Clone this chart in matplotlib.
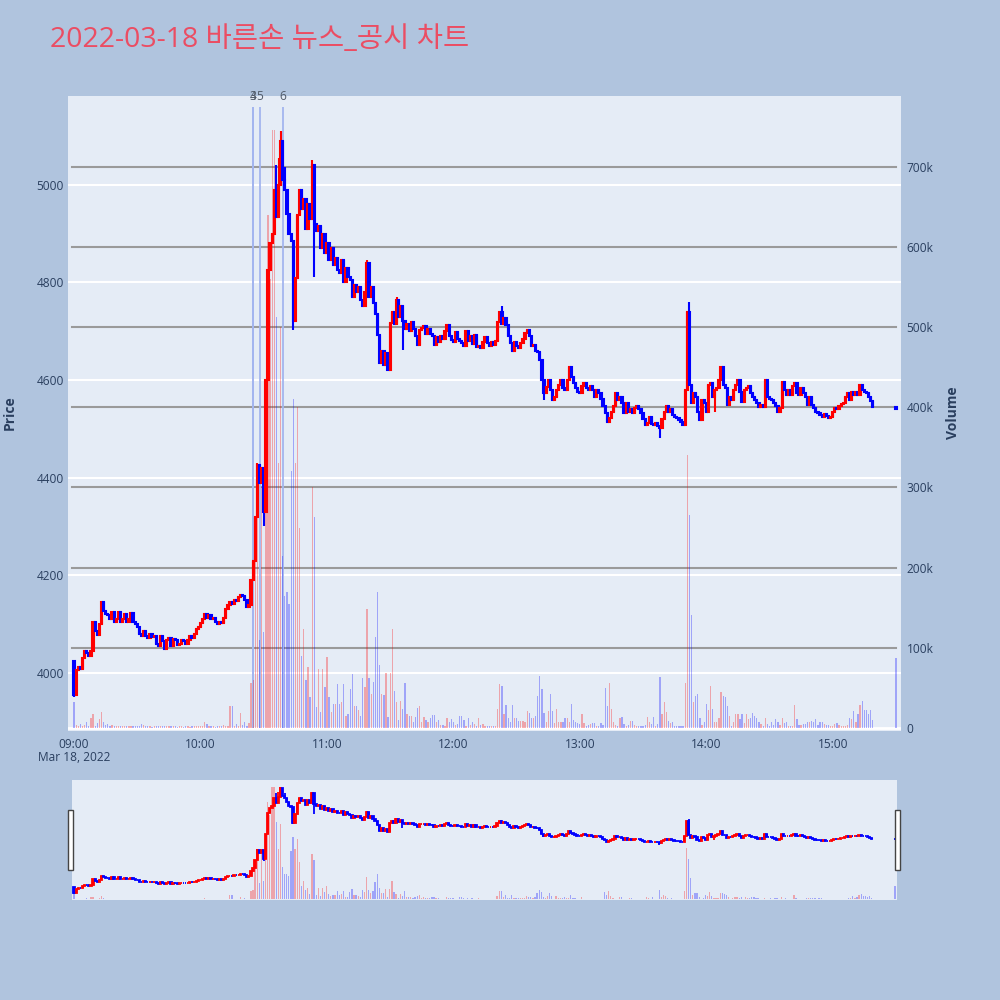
import matplotlib
matplotlib.use("Agg")
import matplotlib.pyplot as plt
from matplotlib.patches import Rectangle

plt.rcParams['font.family'] = ['Open Sans', 'Noto Sans CJK KR', 'DejaVu Sans']

TITLE = "2022-03-18 바른손 뉴스_공시 차트"

# closing price of each one-minute candle, 09:00 .. 15:19
closes = [
    3955, 4005, 4012, 4008, 4030, 4045, 4040, 4035, 4045, 4105,
    4085, 4078, 4100, 4145, 4126, 4120, 4118, 4110, 4125, 4105,
    4110, 4125, 4105, 4110, 4120, 4105, 4110, 4122, 4105, 4100,
    4095, 4080, 4075, 4085, 4075, 4072, 4080, 4073, 4075, 4060,
    4055, 4075, 4065, 4050, 4068, 4072, 4055, 4070, 4068, 4058,
    4060, 4068, 4066, 4060, 4068, 4075, 4072, 4080, 4090, 4095,
    4102, 4110, 4120, 4112, 4118, 4110, 4112, 4105, 4100, 4105,
    4102, 4112, 4130, 4140, 4145, 4142, 4150, 4148, 4155, 4160,
    4158, 4150, 4135, 4140, 4190, 4230, 4320, 4425, 4390, 4420,
    4330, 4600, 4826, 4880, 4900, 4990, 4935, 5000, 5090, 5010,
    4990, 4940, 4900, 4885, 4720, 4810, 4938, 4990, 4950, 4970,
    4910, 4960, 4930, 5040, 4920, 4905, 4915, 4870, 4900, 4860,
    4880, 4845, 4870, 4835, 4850, 4825, 4820, 4845, 4800, 4830,
    4812, 4805, 4771, 4795, 4780, 4790, 4765, 4751, 4780, 4840,
    4770, 4790, 4757, 4735, 4692, 4634, 4660, 4630, 4655, 4620,
    4717, 4740, 4715, 4764, 4730, 4752, 4720, 4705, 4715, 4700,
    4718, 4705, 4690, 4671, 4702, 4706, 4710, 4695, 4704, 4695,
    4690, 4671, 4688, 4678, 4690, 4685, 4700, 4712, 4690, 4682,
    4678, 4698, 4685, 4680, 4676, 4669, 4700, 4680, 4690, 4673,
    4692, 4668, 4670, 4666, 4677, 4688, 4675, 4670, 4677, 4672,
    4680, 4718, 4740, 4715, 4728, 4712, 4690, 4675, 4660, 4679,
    4669, 4665, 4675, 4685, 4696, 4703, 4690, 4669, 4672, 4660,
    4658, 4641, 4600, 4573, 4585, 4600, 4580, 4559, 4565, 4580,
    4590, 4600, 4583, 4580, 4600, 4627, 4607, 4594, 4583, 4576,
    4573, 4587, 4594, 4583, 4580, 4587, 4580, 4566, 4580, 4573,
    4562, 4546, 4532, 4515, 4522, 4535, 4546, 4573, 4559, 4566,
    4553, 4532, 4553, 4535, 4540, 4532, 4542, 4546, 4540, 4532,
    4520, 4508, 4512, 4525, 4510, 4508, 4512, 4505, 4501, 4520,
    4535, 4546, 4535, 4540, 4529, 4525, 4522, 4518, 4515, 4508,
    4580, 4740, 4590, 4553, 4573, 4566, 4535, 4518, 4560, 4553,
    4535, 4590, 4594, 4566, 4580, 4583, 4600, 4627, 4590, 4583,
    4549, 4566, 4559, 4580, 4590, 4600, 4576, 4556, 4580, 4583,
    4587, 4573, 4566, 4560, 4553, 4545, 4549, 4545, 4600, 4566,
    4562, 4559, 4553, 4546, 4535, 4542, 4597, 4580, 4570, 4580,
    4570, 4587, 4594, 4573, 4570, 4583, 4573, 4566, 4549, 4566,
    4549, 4542, 4535, 4532, 4529, 4525, 4530, 4526, 4522, 4525,
    4535, 4542, 4540, 4546, 4550, 4553, 4566, 4573, 4560, 4576,
    4570, 4575, 4570, 4590, 4580, 4576, 4573, 4566, 4558, 4545,
]
first_open = 4025

# closing single-price auction at 15:30
auction_minute = 390
auction_open = 4545
auction_close = 4541

# wicks that stick out of the candle body (minute -> price)
high_wicks = {87: 4430, 96: 5040, 97: 5055, 98: 5110, 100: 5037, 113: 5050,
              139: 4845, 153: 4770, 203: 4752, 292: 4760}
low_wicks = {0: 3951, 90: 4300, 104: 4703, 114: 4811, 156: 4662, 223: 4560,
             278: 4481, 304: 4535}

# traded volume per minute, thousand shares, 09:00 .. 15:19
volumes = [
    33, 4, 3, 5, 3, 4, 7, 3, 13, 17,
    3, 6, 11, 20, 8, 4, 5, 3, 4, 3,
    2, 3, 2, 2, 3, 2, 2, 3, 2, 2,
    3, 2, 5, 4, 2, 2, 2, 1, 2, 2,
    3, 2, 2, 3, 2, 2, 2, 2, 2, 1,
    2, 2, 1, 2, 2, 1, 2, 2, 3, 2,
    2, 3, 8, 5, 2, 2, 2, 1, 2, 3,
    2, 4, 3, 3, 27, 27, 3, 5, 3, 19,
    4, 8, 3, 6, 56, 60, 230, 265, 110, 300,
    120, 430, 640, 560, 745, 745, 513, 330, 500, 215,
    165, 170, 155, 320, 410, 330, 400, 250, 90, 124,
    60, 76, 39, 300, 263, 26, 74, 20, 74, 51,
    89, 39, 20, 30, 30, 55, 30, 33, 55, 15,
    17, 49, 67, 28, 28, 22, 15, 62, 51, 149,
    63, 43, 58, 113, 170, 78, 43, 41, 69, 14,
    69, 124, 46, 33, 10, 34, 24, 56, 17, 15,
    15, 8, 14, 25, 28, 7, 14, 10, 7, 12,
    16, 16, 8, 10, 4, 4, 3, 13, 8, 11,
    8, 4, 5, 15, 15, 10, 3, 12, 4, 7,
    5, 3, 12, 4, 5, 3, 3, 2, 3, 2,
    3, 24, 55, 53, 17, 29, 12, 8, 29, 12,
    12, 9, 9, 9, 8, 21, 19, 13, 12, 15,
    40, 65, 49, 19, 8, 21, 42, 21, 6, 24,
    7, 7, 8, 13, 12, 8, 30, 10, 8, 6,
    5, 17, 6, 3, 4, 5, 6, 6, 3, 2,
    6, 4, 50, 28, 56, 24, 8, 4, 3, 13,
    14, 5, 2, 4, 9, 9, 4, 3, 2, 2,
    3, 4, 14, 8, 5, 14, 3, 5, 64, 18,
    32, 20, 9, 6, 8, 3, 3, 2, 3, 2,
    56, 340, 265, 141, 32, 40, 42, 13, 4, 8,
    30, 22, 52, 24, 8, 7, 12, 45, 40, 39,
    28, 15, 3, 7, 17, 17, 11, 17, 6, 17,
    11, 12, 19, 15, 12, 8, 5, 3, 12, 5,
    2, 7, 4, 11, 7, 4, 13, 6, 7, 3,
    3, 3, 29, 11, 4, 4, 5, 5, 7, 7,
    9, 8, 11, 4, 7, 7, 5, 4, 4, 3,
    3, 5, 6, 4, 3, 2, 3, 4, 12, 11,
    21, 8, 18, 29, 34, 23, 23, 18, 22, 10,
]
auction_volume = 87

# news / disclosure markers
news_minutes = [85, 85, 88, 99]
news_labels = ["3", "4", "5", "6"]

hour_ticks = [0, 60, 120, 180, 240, 300, 360]
hour_labels = ["09:00", "10:00", "11:00", "12:00", "13:00", "14:00", "15:00"]
price_ticks = [4000, 4200, 4400, 4600, 4800, 5000]
volume_ticks = [0, 100, 200, 300, 400, 500, 600, 700]
volume_labels = ["0", "100k", "200k", "300k", "400k", "500k", "600k", "700k"]

UP = "#ff0000"
DOWN = "#0000ff"
TEXT = "#2a3f5f"
PAPER = "#b0c4de"
PLOT_BG = "#e5ecf6"

PRICE_RANGE = (3881, 5182)
VOLUME_RANGE = (-3.7, 788)


#Build the full series including the closing auction
minutes = list(range(len(closes))) + [auction_minute]
close_all = closes + [auction_close]
open_all = [first_open] + closes[:-1] + [auction_open]
vol_all = volumes + [auction_volume]
high_all = []
low_all = []
for i, m in enumerate(minutes):
    o, c = open_all[i], close_all[i]
    high_all.append(high_wicks.get(m, max(o, c)))
    low_all.append(low_wicks.get(m, min(o, c)))
colors = [UP if c > o else DOWN for o, c in zip(open_all, close_all)]
vol_colors = [(1, 0, 0, 0.3) if col == UP else (0, 0, 1, 0.3) for col in colors]


def draw_series(ax_vol, ax_price, body_lw, wick_lw):
    """Volume bars on one axis, candles on the other."""
    ax_vol.bar(minutes, vol_all, width=0.6, color=vol_colors, linewidth=0, zorder=1)
    bottoms = [min(o, c) for o, c in zip(open_all, close_all)]
    heights = [max(abs(c - o), 2) for o, c in zip(open_all, close_all)]
    ax_price.vlines(minutes, low_all, high_all, colors=colors, linewidth=wick_lw, zorder=2)
    ax_price.bar(minutes, heights, bottom=bottoms, width=0.6, color=colors,
                 edgecolor=colors, linewidth=body_lw, zorder=3)


def clean(ax):
    for s in ax.spines.values():
        s.set_visible(False)


fig = plt.figure(figsize=(10, 10), dpi=100, facecolor=PAPER)

#Main chart: volume axis underneath (right ticks), price axis on top (left ticks)
ax_vol = fig.add_axes([0.068, 0.269, 0.833, 0.635], facecolor=PLOT_BG)
ax_price = ax_vol.twinx()
ax_price.patch.set_visible(False)
ax_vol.set_xlim(-2.9, 392.4)
ax_vol.set_ylim(*VOLUME_RANGE)
ax_price.set_ylim(*PRICE_RANGE)
clean(ax_vol)
clean(ax_price)

#Price gridlines (white), placed on the lower axis so they sit under the bars
lo, hi = PRICE_RANGE
for p in price_ticks:
    f = (p - lo) / (hi - lo)
    ax_vol.plot([0, 1], [f, f], transform=ax_vol.transAxes, color="white",
                linewidth=1.5, zorder=0.4)

#Volume gridlines (gray) and the white zero line
for v in volume_ticks[1:]:
    ax_vol.axhline(v, xmin=0.005, xmax=0.994, color="#9a9a9a", linewidth=1.5, zorder=0.5)
ax_vol.axhline(0, color="white", linewidth=2, zorder=0.5)

#News markers
ax_vol.vlines(news_minutes, 0, 774, colors="#a3b5ef", linewidth=1.3, zorder=0.8)
for m, lab in zip(news_minutes, news_labels):
    ax_vol.text(m, 787, lab, ha="center", va="center", fontsize=8.6,
                color="#505a68", clip_on=False)

draw_series(ax_vol, ax_price, body_lw=1.5, wick_lw=1.5)

#Ticks
ax_vol.set_xticks(hour_ticks)
ax_vol.set_xticklabels(hour_labels)
ax_vol.set_yticks(volume_ticks)
ax_vol.set_yticklabels(volume_labels)
ax_vol.yaxis.tick_right()
ax_vol.tick_params(axis="x", length=0, pad=5, labelsize=8.6, labelcolor=TEXT)
ax_vol.tick_params(axis="y", length=0, pad=4, labelsize=8.6, labelcolor=TEXT)
ax_price.set_yticks(price_ticks)
ax_price.set_yticklabels([str(p) for p in price_ticks])
ax_price.yaxis.tick_left()
ax_price.tick_params(axis="y", length=0, pad=3, labelsize=8.6, labelcolor=TEXT)
ax_vol.text(0, -0.0425, "Mar 18, 2022", transform=ax_vol.get_xaxis_transform(),
            ha="center", va="center", fontsize=8.6, color=TEXT)

fig.text(0.010, 0.587, "Price", rotation=90, ha="center", va="center",
         fontsize=10, fontweight="bold", color=TEXT)
fig.text(0.953, 0.587, "Volume", rotation=90, ha="center", va="center",
         fontsize=10, fontweight="bold", color=TEXT)

fig.text(0.05, 0.96, TITLE, ha="left", va="center", fontsize=20.5, color="#eb4d63")

#Range slider
axs_vol = fig.add_axes([0.072, 0.100, 0.825, 0.120], facecolor=PLOT_BG)
axs_price = axs_vol.twinx()
axs_price.patch.set_visible(False)
axs_vol.set_xlim(-1, 391)
axs_vol.set_ylim(*VOLUME_RANGE)
axs_price.set_ylim(*PRICE_RANGE)
for a in (axs_vol, axs_price):
    clean(a)
    a.set_xticks([])
    a.set_yticks([])
draw_series(axs_vol, axs_price, body_lw=1.3, wick_lw=1.3)

for x0 in (0.068, 0.895):
    fig.patches.append(Rectangle((x0, 0.130), 0.005, 0.060, transform=fig.transFigure,
                                 facecolor="white", edgecolor="#444444", linewidth=1))

fig.savefig("out.png", dpi=100, facecolor=PAPER)
